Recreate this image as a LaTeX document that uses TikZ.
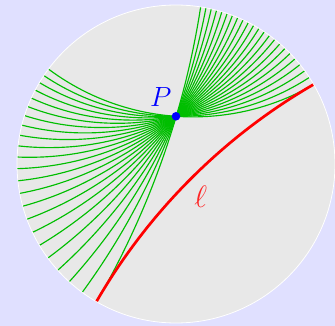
\documentclass[tikz,border=0pt]{standalone}
\definecolor{bg}{RGB}{224,224,255}
\definecolor{disk}{RGB}{232,232,232}
\definecolor{grn}{RGB}{0,190,0}
\tikzset{
  greenline/.style={grn, line width=1.15pt},
  redline/.style={red, line width=2.7pt},
  lbl/.style={font=\Huge, inner sep=0pt}
}
\begin{document}
\begin{tikzpicture}[x=159bp,y=159bp]
\fill[bg] (-1.10692,-1.01887) rectangle (1.0,1.03145);
\useasboundingbox (-1.10692,-1.01887) rectangle (1.0,1.03145);
\coordinate (O) at (0,0);
\coordinate (P) at (0,0.3);
\fill[disk] (O) circle (1);
\begin{scope}
\clip (O) circle (1);
\foreach \k in {0,...,22} {
  \pgfmathsetmacro\ph{-3.992+\k*77.572/22}
  \pgfmathsetmacro\cc{-1.516667*tan(\ph)}
  \pgfmathsetmacro\rr{sqrt(\cc*\cc+2.300278)}
  \draw[greenline] (\cc,1.816667) circle (\rr);
}
\coordinate (L) at (2.7320508,-2.7320508);
\draw[redline] (L) circle (3.7320508);
\end{scope}
\draw[white, line width=0.8pt] (O) circle (1);
\fill[blue] (P) circle (4.3bp);
\node[lbl, text=blue, scale=1.12] (Plabel) at (-0.0962,0.4233) {$P$};
\node[lbl, text=red!85!white, scale=1.25] (ell) at (0.1553,-0.2075) {$\ell$};
\end{tikzpicture}
\end{document}
